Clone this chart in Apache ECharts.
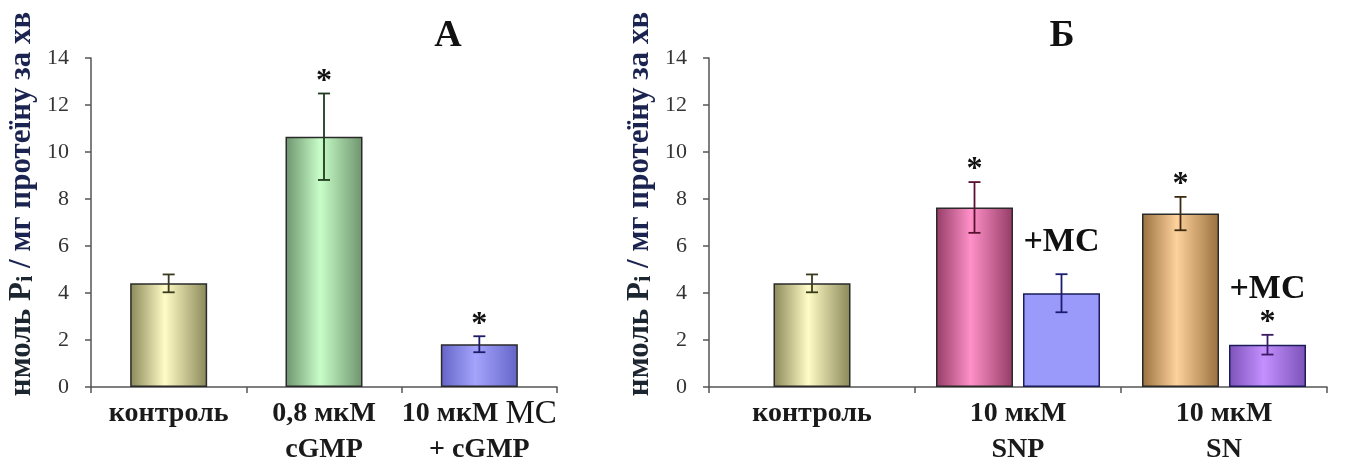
<!DOCTYPE html>
<html>
<head>
<meta charset="utf-8">
<script src="https://cdn.jsdelivr.net/npm/echarts@6/dist/echarts.min.js"></script>
<style>
  html, body { margin: 0; padding: 0; background: #fff; }
  #chart { width: 1351px; height: 468px; }
</style>
</head>
<body>
<div id="chart"></div>
<script>
  // панель А
  const catsA = ['контроль', '0,8 мкМ\ncGMP', '10 мкМ МС\n+ cGMP']
  const valsA = [4.41, 10.65, 1.82]
  const errA = [0.38, 1.84, 0.34]
  const notesA = ['', '*', '*']

  // панель Б
  const catsB = ['контроль', '10 мкМ\nSNP', '10 мкМ\nSN']
  const valsB = [4.41, 7.64, 7.38]
  const errB = [0.38, 1.08, 0.71]
  const notesB = ['', '*', '*']
  const valsMC = ['-', 3.99, 1.80]
  const errMC = ['-', 0.81, 0.42]
  const notesMC = ['', '+МС', '+МС\n*']

  const yTicks = [0, 14, 2] // min, max, interval

  const SERIF = '"Liberation Serif", "DejaVu Serif", serif'
  const BAR_W = 77
  const GAP = 10

  const grad = (edge, mid) => new echarts.graphic.LinearGradient(0, 0, 1, 0, [
    { offset: 0, color: edge },
    { offset: 0.45, color: mid },
    { offset: 1, color: edge }
  ])

  const fillsA = [grad('#8a8858', '#fffcc6'), grad('#6e946e', '#c8fdc8'), grad('#6464c8', '#a4a4fc')]
  const fillsB = [grad('#8a8858', '#fffcc6'), grad('#943c66', '#ff90c8'), grad('#98703e', '#ffd29c')]
  const fillsMC = ['#fff', '#9a9afa', grad('#7c52b8', '#c490ff')]
  const errColA = ['#3a3a1e', '#1f3a1f', '#1c1c66']
  const errColB = ['#3a3a1e', '#5a1232', '#3c2a12']
  const errColMC = ['#000', '#1c1c70', '#3a1a62']

  // контроль панелі Б малюється окремо, по центру своєї категорії
  const only = (arr, keep) => arr.map((v, i) => keep(i) ? v : '-')

  function barSeries(vals, fills, xi, yi, border) {
    return {
      type: 'bar',
      xAxisIndex: xi,
      yAxisIndex: yi,
      barWidth: BAR_W,
      barGap: (GAP / BAR_W * 100) + '%',
      data: vals.map((v, i) => ({
        value: v,
        itemStyle: { color: fills[i], borderColor: border || '#2a2a2a', borderWidth: 1.5 }
      })),
      animation: false
    }
  }

  // планки похибок і позначки (*, +МС)
  function errSeries(vals, errs, notes, cols, xi, yi, shift) {
    const data = []
    vals.forEach((v, i) => { if (v !== '-') data.push([i, v, errs[i]]) })
    return {
      type: 'custom',
      xAxisIndex: xi,
      yAxisIndex: yi,
      z: 5,
      animation: false,
      data,
      renderItem(params, api) {
        const ci = api.value(0)
        const m = api.value(1)
        const e = api.value(2)
        const hi = api.coord([ci, m + e])
        const lo = api.coord([ci, m - e])
        const x = hi[0] + shift
        const col = cols[ci]
        const cap = 6
        const ls = { stroke: col, lineWidth: 1.8 }
        const kids = [
          { type: 'line', shape: { x1: x, y1: hi[1], x2: x, y2: lo[1] }, style: ls },
          { type: 'line', shape: { x1: x - cap, y1: hi[1], x2: x + cap, y2: hi[1] }, style: ls },
          { type: 'line', shape: { x1: x - cap, y1: lo[1], x2: x + cap, y2: lo[1] }, style: ls }
        ]
        const note = notes[ci]
        const hasStar = note.indexOf('*') >= 0
        if (hasStar) {
          kids.push({
            type: 'text', x, y: hi[1] - 12,
            style: { text: '*', font: 'bold 32px ' + SERIF, fill: '#111', align: 'center', verticalAlign: 'middle' }
          })
        }
        if (note.indexOf('+МС') >= 0) {
          kids.push({
            type: 'text', x, y: hi[1] - (hasStar ? 29 : 15),
            style: { text: '+МС', font: 'bold 34px ' + SERIF, fill: '#111', align: 'center', verticalAlign: 'bottom' }
          })
        }
        return { type: 'group', children: kids }
      }
    }
  }

  function xAxis(cats, gi, hidden) {
    return {
      type: 'category',
      gridIndex: gi,
      data: cats,
      show: !hidden,
      axisLine: { lineStyle: { color: '#555', width: 1.5 } },
      axisTick: { show: true, length: 6, lineStyle: { color: '#555', width: 1.5 } },
      axisLabel: {
        interval: 0,
        margin: 9,
        fontFamily: SERIF,
        fontWeight: 'bold',
        fontSize: 28,
        lineHeight: 36,
        color: '#1a1a1a',
        formatter: v => v.replace('МС', '{m|МС}'),
        rich: { m: { fontFamily: SERIF, fontSize: 33, fontWeight: 'normal', color: '#141414', lineHeight: 36 } }
      }
    }
  }

  function yAxis(gi) {
    return {
      type: 'value',
      gridIndex: gi,
      min: yTicks[0],
      max: yTicks[1],
      interval: yTicks[2],
      splitLine: { show: false },
      axisLine: { show: true, lineStyle: { color: '#555', width: 1.5 } },
      axisTick: { show: true, length: 6, lineStyle: { color: '#555', width: 1.5 } },
      axisLabel: { fontFamily: SERIF, fontSize: 22, color: '#333', margin: 22 }
    }
  }

  function yTitle(x) {
    return {
      type: 'text',
      x, y: 204,
      rotation: Math.PI / 2,
      style: {
        text: '{a|нмоль P}{s|i}{b| / мг протеїну за хв}',
        align: 'center',
        verticalAlign: 'middle',
        rich: {
          a: { fontFamily: SERIF, fontWeight: 'bold', fontSize: 31, fill: '#1c2630' },
          s: { fontFamily: SERIF, fontWeight: 'bold', fontSize: 23, fill: '#1c2630', padding: [9, 0, 0, 0] },
          b: { fontFamily: SERIF, fontWeight: 'bold', fontSize: 31, fill: '#1b2350' }
        }
      }
    }
  }

  const chart = echarts.init(document.getElementById('chart'), null, { renderer: 'canvas' })
  chart.setOption({
    backgroundColor: '#fff',
    animation: false,
    grid: [
      { left: 91, top: 58, width: 466, height: 330 },
      { left: 709, top: 58, width: 618, height: 330 }
    ],
    xAxis: [xAxis(catsA, 0), xAxis(catsB, 1), xAxis(catsB, 1, true)],
    yAxis: [yAxis(0), yAxis(1)],
    graphic: [
      { type: 'text', x: 448, y: 36, style: { text: 'А', font: 'bold 38px ' + SERIF, fill: '#111', align: 'center', verticalAlign: 'middle' } },
      { type: 'text', x: 1062, y: 36, style: { text: 'Б', font: 'bold 38px ' + SERIF, fill: '#111', align: 'center', verticalAlign: 'middle' } },
      yTitle(22),
      yTitle(640)
    ],
    series: [
      barSeries(valsA, fillsA, 0, 0),
      errSeries(valsA, errA, notesA, errColA, 0, 0, 0),
      barSeries(only(valsB, i => i === 0), fillsB, 2, 1),
      barSeries(only(valsB, i => i > 0), fillsB, 1, 1),
      barSeries(valsMC, fillsMC, 1, 1, '#1c1c5a'),
      errSeries(only(valsB, i => i === 0), errB, notesB, errColB, 2, 1, 0),
      errSeries(only(valsB, i => i > 0), errB, notesB, errColB, 1, 1, -(BAR_W + GAP) / 2),
      errSeries(valsMC, errMC, notesMC, errColMC, 1, 1, (BAR_W + GAP) / 2)
    ]
  })
</script>
</body>
</html>
